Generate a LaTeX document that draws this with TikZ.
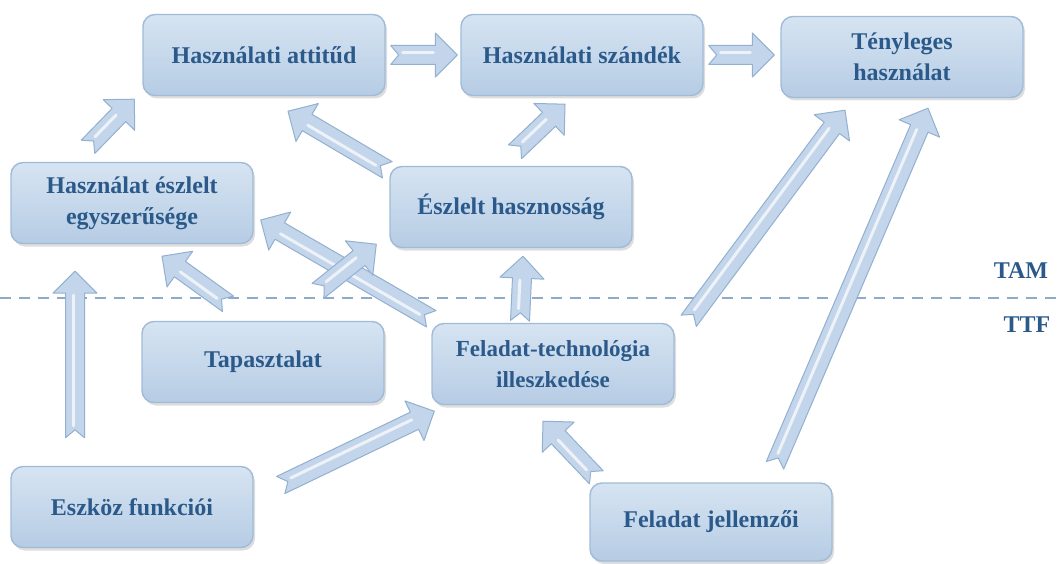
\documentclass[tikz,border=0pt]{standalone}
\usepackage{fontspec}
\setmainfont{Liberation Serif}
\usetikzlibrary{calc,shadows}
\definecolor{boxtop}{HTML}{D6E4F2}
\definecolor{boxbot}{HTML}{B6CCE4}
\definecolor{boxline}{HTML}{A0BBD8}
\definecolor{txtblue}{HTML}{2B5A8A}
\definecolor{arrfill}{HTML}{C3D5EA}
\definecolor{arrline}{HTML}{92B0D0}
\definecolor{dashblue}{HTML}{8EA9C9}
\tikzset{
  box/.style={rounded corners=12pt, draw=boxline, line width=1.4pt,
    top color=boxtop, bottom color=boxbot,
    drop shadow={shadow xshift=2pt, shadow yshift=-3pt, opacity=.22, fill=black!60},
    minimum width=242pt, minimum height=81pt, align=center,
    font=\fontsize{24}{31}\selectfont\bfseries, text=txtblue, inner sep=4pt},
  blockarr/.style={draw=arrline, fill=arrfill, line width=1pt, line join=round},
  arrhl/.style={draw=white, opacity=.7, line width=3pt, line cap=round},
  sidelabel/.style={font=\fontsize{24}{28}\selectfont\bfseries, text=txtblue}
}
\newcommand\barr[2]{%
  \path[blockarr] let \p1=(#1), \p2=(#2),
     \n1={atan2(\y2-\y1,\x2-\x1)}, \n2={veclen(\x2-\x1,\y2-\y1)} in
   ($(\p1)+(\n1+90:9.5pt)$) -- ($(\p1)+(\n1:\n2-22pt)+(\n1+90:9.5pt)$)
   -- ($(\p1)+(\n1:\n2-22pt)+(\n1+90:22pt)$) -- (\p2)
   -- ($(\p1)+(\n1:\n2-22pt)+(\n1-90:22pt)$) -- ($(\p1)+(\n1:\n2-22pt)+(\n1-90:9.5pt)$)
   -- ($(\p1)+(\n1-90:9.5pt)$) -- ($(\p1)+(\n1:8pt)$) -- cycle;
  \path[arrhl] let \p1=(#1), \p2=(#2),
     \n1={atan2(\y2-\y1,\x2-\x1)}, \n2={veclen(\x2-\x1,\y2-\y1)} in
   ($(\p1)+(\n1:12pt)+(\n1+90:2pt)$) -- ($(\p1)+(\n1:\n2-24pt)+(\n1+90:2pt)$);
}
\begin{document}
\begin{tikzpicture}[x=1pt,y=-1pt]
\useasboundingbox (0,0) rectangle (1064,564);
% nodes
\node[box] (att) at (264,55) {Használati attitűd};
\node[box] (szand) at (582,55) {Használati szándék};
\node[box] (teny) at (902,57) {Tényleges\\használat};
\node[box] (egy) at (132,203) {Használat észlelt\\egyszerűsége};
\node[box] (hasz) at (511,207) {Észlelt hasznosság};
\node[box] (tap) at (263,362) {Tapasztalat};
\node[box, font=\fontsize{23}{31}\selectfont\bfseries] (ftech) at (553,364) {Feladat-technológia\\illeszkedése};
\node[box] (esz) at (132,507) {Eszköz funkciói};
\node[box, minimum height=78pt] (fj) at (711,522) {Feladat jellemzői};
% dashed separator
\coordinate (dl) at (0,298);
\coordinate (dr) at (1064,298);
\draw[dashblue, line width=2pt, dash pattern=on 11pt off 8pt] (dl) -- (dr);
\node[sidelabel] (tam) at (1021,271) {TAM};
\node[sidelabel] (ttf) at (1027,325) {TTF};
% arrows
\barr{$(att.east)+(5,0)$}{$(szand.west)+(-3,0)$}
\barr{$(szand.east)+(5,0)$}{$(teny.west |- szand.east)+(-6,0)$}
\barr{$(egy.north)+(-44,-15)$}{$(att.south west)+(-8,3)$}
\barr{$(hasz.north west)+(-2,4)$}{$(att.south)+(24,15)$}
\barr{$(hasz.north)+(4,-14)$}{$(szand.south)+(-17,8)$}
\barr{$(ftech.north)+(-33,-2)$}{$(hasz.south)+(12,8)$}
\barr{$(ftech.north west)+(0,-4)$}{$(egy.east)+(7,17)$}
\barr{$(tap.north)+(55,-30)$}{$(hasz.south west)+(-13,-4)$}
\barr{$(tap.north)+(-35,-17)$}{$(egy.south)+(30,12)$}
\barr{$(esz.north)+(-57,-28)$}{$(egy.south)+(-57,27)$}
\barr{$(esz.east)+(27,-22)$}{$(ftech.south west)+(3,6)$}
\barr{$(fj.north west)+(7,-5)$}{$(ftech.south)+(-10,16)$}
\barr{$(fj.north)+(64,-17)$}{$(teny.south)+(26,10)$}
\barr{$(ftech.north east)+(14,-2)$}{$(teny.south)+(-57,12)$}
\end{tikzpicture}
\end{document}
